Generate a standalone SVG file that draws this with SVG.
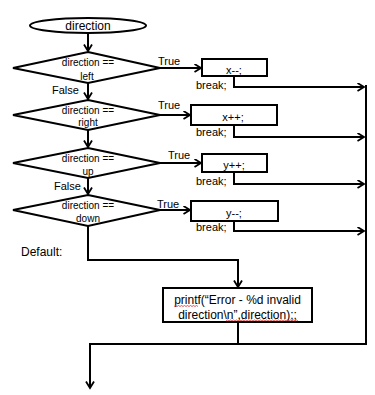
<svg xmlns="http://www.w3.org/2000/svg" width="375" height="395" viewBox="0 0 375 395">
<defs>
<marker id="arr" markerUnits="userSpaceOnUse" markerWidth="10" markerHeight="10" refX="7" refY="4.5" orient="auto" viewBox="0 0 10 10">
<path d="M0.5,0.5 L7,4.5 L0.5,8.5" fill="none" stroke="#000" stroke-width="1.8"/>
</marker>
</defs>
<style>
.s{fill:#fff;stroke:#000;stroke-width:2}
.c{fill:none;stroke:#000;stroke-width:2}
text{font-family:"Liberation Sans",Arial,sans-serif;fill:#000}
.d{font-size:10px;text-anchor:middle}
.l{font-size:11px}
.m{font-size:12px}
.sq{fill:none;stroke:#e03030;stroke-width:0.8}
</style>
<rect width="375" height="395" fill="#fff"/>
<g id="connectors">
<path class="c" d="M88,33 V51" marker-end="url(#arr)"/>
<path class="c" d="M88,83 V99" marker-end="url(#arr)"/>
<path class="c" d="M88,130 V147" marker-end="url(#arr)"/>
<path class="c" d="M88,178 V194" marker-end="url(#arr)"/>
<path class="c" d="M160,68 H201" marker-end="url(#arr)"/>
<path class="c" d="M160,115 H190" marker-end="url(#arr)"/>
<path class="c" d="M160,163 H201" marker-end="url(#arr)"/>
<path class="c" d="M160,210 H190" marker-end="url(#arr)"/>
<path class="c" d="M234,76 V87 H364" marker-end="url(#arr)"/>
<path class="c" d="M234,125 V137 H364" marker-end="url(#arr)"/>
<path class="c" d="M234,172 V184 H364" marker-end="url(#arr)"/>
<path class="c" d="M234,221 V231 H364" marker-end="url(#arr)"/>
<path class="c" d="M366,85 V344"/>
<path class="c" d="M88,226 V260 H238 V287" marker-end="url(#arr)"/>
<path class="c" d="M238,322 V344"/>
<path class="c" d="M91,344 H367"/>
<path class="c" d="M90,343 V388" marker-end="url(#arr)"/>
</g>
<g id="start">
<ellipse class="s" cx="88" cy="25.5" rx="58" ry="7.5" stroke-width="1"/>
<text class="m" x="88" y="30" text-anchor="middle">direction</text>
</g>
<g id="dec-left">
<polygon class="s" points="88,52 160,68 88,83 13,68"/>
<text class="d" x="88" y="65.5">direction ==</text>
<text class="d" x="87" y="79.5">left</text>
</g>
<g id="dec-right">
<polygon class="s" points="88,100 160,115 88,130 13,115"/>
<text class="d" x="88" y="113.5">direction ==</text>
<text class="d" x="88" y="126">right</text>
</g>
<g id="dec-up">
<polygon class="s" points="88,148 160,163 88,178 13,163"/>
<text class="d" x="88" y="161.5">direction ==</text>
<text class="d" x="88" y="174.5">up</text>
</g>
<g id="dec-down">
<polygon class="s" points="88,195 160,210 88,226 13,210"/>
<text class="d" x="88" y="208.5">direction ==</text>
<text class="d" x="88" y="221.5">down</text>
</g>
<g id="labels">
<text class="l" x="158" y="65">True</text>
<text class="l" x="158" y="108.5">True</text>
<text class="l" x="168" y="158.5">True</text>
<text class="l" x="157" y="207.5">True</text>
<text class="l" x="52" y="94">False</text>
<text class="l" x="54" y="190">False</text>
<text class="m" x="21" y="256">Default:</text>
</g>
<g id="box-xdec">
<rect class="s" x="202" y="59" width="65" height="17"/>
<text class="l" x="234" y="74" text-anchor="middle">x--;</text>
<text class="l" x="196" y="89">break;</text>
</g>
<g id="box-xinc">
<rect class="s" x="191" y="105" width="86" height="20"/>
<text class="l" x="233" y="121" text-anchor="middle">x++;</text>
<text class="l" x="196" y="136">break;</text>
</g>
<g id="box-yinc">
<rect class="s" x="202" y="154" width="65" height="18"/>
<text class="l" x="234" y="169" text-anchor="middle">y++;</text>
<text class="l" x="196" y="185">break;</text>
</g>
<g id="box-ydec">
<rect class="s" x="191" y="201" width="87" height="20"/>
<text class="l" x="234" y="217" text-anchor="middle">y--;</text>
<text class="l" x="196" y="231">break;</text>
</g>
<g id="box-default">
<rect class="s" x="163" y="288" width="149" height="34"/>
<text class="m" x="237.5" y="304" text-anchor="middle">printf(“Error - %d invalid</text>
<text class="m" x="237.5" y="318.5" text-anchor="middle">direction\n”,direction);;</text>
<path class="sq" d="M174,306.5 l1.5,-1 l1.5,1 l1.5,-1 l1.5,1 l1.5,-1 l1.5,1 l1.5,-1 l1.5,1 l1.5,-1 l1.5,1 l1.5,-1 l1.5,1 l1.5,-1 l1.5,1 l1.5,-1 l1.5,1"/>
<path class="sq" d="M226,321 l1.5,-1 l1.5,1 l1.5,-1 l1.5,1 l1.5,-1 l1.5,1 l1.5,-1 l1.5,1 l1.5,-1 l1.5,1 l1.5,-1 l1.5,1 l1.5,-1 l1.5,1 l1.5,-1 l1.5,1 l1.5,-1 l1.5,1 l1.5,-1 l1.5,1 l1.5,-1 l1.5,1 l1.5,-1 l1.5,1 l1.5,-1 l1.5,1 l1.5,-1 l1.5,1 l1.5,-1 l1.5,1 l1.5,-1 l1.5,1 l1.5,-1 l1.5,1 l1.5,-1 l1.5,1 l1.5,-1 l1.5,1 l1.5,-1 l1.5,1 l1.5,-1 l1.5,1 l1.5,-1 l1.5,1 l1.5,-1 l1.5,1 l1.5,-1 l1.5,1"/>
</g>
</svg>
